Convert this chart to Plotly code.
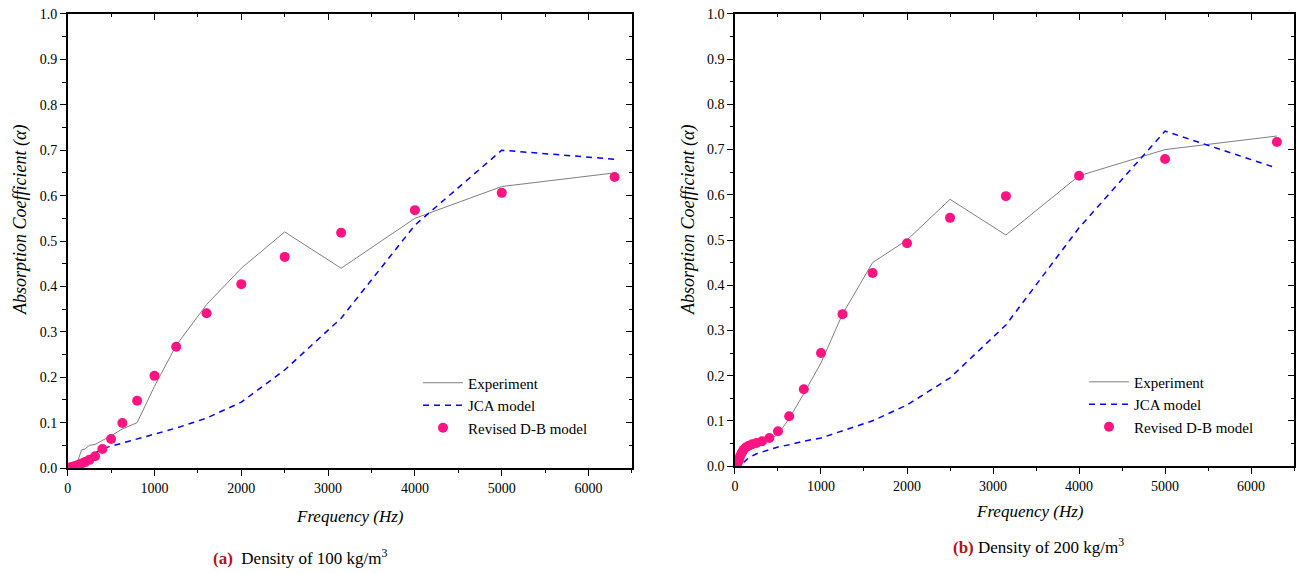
import plotly.graph_objects as go

# ---- (a) density 100 kg/m3 ----
exp_a_f = [20, 63, 80, 100, 125, 160, 200, 250, 315, 400, 500, 630, 800, 1000, 1250, 1600, 2000, 2500, 3150, 4000, 5000, 6300]
exp_a = [0.0, 0.005, 0.01, 0.012, 0.02, 0.04, 0.042, 0.05, 0.052, 0.06, 0.071, 0.086, 0.10, 0.18, 0.27, 0.36, 0.44, 0.52, 0.44, 0.55, 0.62, 0.65]

jca_a_f = [100, 125, 160, 200, 250, 315, 400, 500, 630, 800, 1000, 1250, 1600, 2000, 2500, 3150, 4000, 5000, 6300]
jca_a = [0.004, 0.008, 0.012, 0.018, 0.025, 0.033, 0.043, 0.048, 0.055, 0.064, 0.075, 0.088, 0.11, 0.145, 0.216, 0.33, 0.535, 0.70, 0.68]

db_a_f = [20, 25, 31.5, 40, 50, 63, 80, 100, 125, 160, 200, 250, 315, 400, 500, 630, 800, 1000, 1250, 1600, 2000, 2500, 3150, 4000, 5000, 6300]
db_a = [0.0, 0.0005, 0.001, 0.001, 0.002, 0.003, 0.004, 0.005, 0.007, 0.01, 0.013, 0.018, 0.026, 0.042, 0.064, 0.099, 0.148, 0.203, 0.267, 0.341, 0.405, 0.465, 0.518, 0.568, 0.606, 0.641]

# ---- (b) density 200 kg/m3 ----
exp_b_f = [50, 63, 80, 100, 125, 160, 200, 250, 315, 400, 500, 630, 800, 1000, 1250, 1600, 2000, 2500, 3150, 4000, 5000, 6300]
exp_b = [0.01, 0.015, 0.022, 0.03, 0.035, 0.04, 0.045, 0.048, 0.052, 0.058, 0.07, 0.105, 0.16, 0.228, 0.336, 0.45, 0.50, 0.59, 0.511, 0.642, 0.70, 0.73]

jca_b_f = [100, 125, 160, 200, 250, 315, 400, 500, 630, 800, 1000, 1250, 1600, 2000, 2500, 3150, 4000, 5000, 6300]
jca_b = [0.008, 0.013, 0.018, 0.022, 0.027, 0.031, 0.036, 0.042, 0.047, 0.055, 0.062, 0.078, 0.10, 0.135, 0.195, 0.312, 0.527, 0.741, 0.659]

db_b_f = [20, 25, 31.5, 40, 50, 63, 80, 100, 125, 160, 200, 250, 315, 400, 500, 630, 800, 1000, 1250, 1600, 2000, 2500, 3150, 4000, 5000, 6300]
db_b = [0.003, 0.005, 0.008, 0.012, 0.017, 0.023, 0.03, 0.036, 0.041, 0.045, 0.048, 0.051, 0.055, 0.062, 0.077, 0.11, 0.17, 0.25, 0.336, 0.427, 0.493, 0.549, 0.597, 0.642, 0.679, 0.717]

GREY = "#7f7f7f"
BLUE = "#0000ff"
PINK = "#ff1482"
FONT = "Liberation Serif, Times New Roman, Times, serif"

fig = go.Figure()


def add_panel(xa, ya, legend, ef, ev, jf, jv, df, dv):
    fig.add_trace(go.Scatter(x=ef, y=ev, mode="lines", name="Experiment",
                             line=dict(color=GREY, width=1), xaxis=xa, yaxis=ya, legend=legend))
    fig.add_trace(go.Scatter(x=jf, y=jv, mode="lines", name="JCA model",
                             line=dict(color=BLUE, width=1.5, dash="6px,5px"), xaxis=xa, yaxis=ya, legend=legend))
    fig.add_trace(go.Scatter(x=df, y=dv, mode="markers", name="Revised D-B model",
                             marker=dict(color=PINK, size=10, line=dict(width=0)), xaxis=xa, yaxis=ya, legend=legend))


add_panel("x", "y", "legend", exp_a_f, exp_a, jca_a_f, jca_a, db_a_f, db_a)
add_panel("x2", "y2", "legend2", exp_b_f, exp_b, jca_b_f, jca_b, db_b_f, db_b)

# empty traces so the mirrored frame axes get drawn
fig.add_trace(go.Scatter(x=[], y=[], xaxis="x3", yaxis="y3", showlegend=False))
fig.add_trace(go.Scatter(x=[], y=[], xaxis="x4", yaxis="y4", showlegend=False))

tickfont = dict(family=FONT, size=14, color="black")

xdom_a = [0.0521, 0.4865]
ydom_a = [0.1832, 0.9756]
xdom_b = [0.5658, 0.9962]
ydom_b = [0.1867, 0.9756]


def xaxis_main(dom, anchor):
    return dict(domain=dom, anchor=anchor, range=[0, 6500], tickvals=[0, 1000, 2000, 3000, 4000, 5000, 6000],
                ticks="outside", ticklen=6, tickwidth=1.2, tickcolor="black",
                minor=dict(dtick=500, tick0=0, ticks="outside", ticklen=3.5, tickwidth=1.2, tickcolor="black"),
                showline=True, linecolor="black", linewidth=1.5, showgrid=False, zeroline=False,
                tickfont=tickfont, automargin=False)


def yaxis_main(dom, anchor):
    return dict(domain=dom, anchor=anchor, range=[0, 1.0], dtick=0.1, tickformat=".1f",
                ticks="outside", ticklen=6, tickwidth=1.2, tickcolor="black",
                minor=dict(dtick=0.05, tick0=0, ticks="outside", ticklen=3.5, tickwidth=1.2, tickcolor="black"),
                showline=True, linecolor="black", linewidth=1.5, showgrid=False, zeroline=False,
                tickfont=tickfont, automargin=False)


def xaxis_top(dom, anchor, over):
    return dict(domain=dom, anchor=anchor, overlaying=over, side="top", range=[0, 6500], dtick=1000,
                ticks="inside", ticklen=6, tickwidth=1.2, tickcolor="black",
                minor=dict(dtick=500, tick0=0, ticks="inside", ticklen=3.5, tickwidth=1.2, tickcolor="black"),
                showticklabels=False, showline=True, linecolor="black", linewidth=1.5,
                showgrid=False, zeroline=False, automargin=False)


def yaxis_right(dom, anchor, over):
    return dict(domain=dom, anchor=anchor, overlaying=over, side="right", range=[0, 1.0], dtick=0.1,
                ticks="inside", ticklen=6, tickwidth=1.2, tickcolor="black",
                minor=dict(dtick=0.05, tick0=0, ticks="inside", ticklen=3.5, tickwidth=1.2, tickcolor="black"),
                showticklabels=False, showline=True, linecolor="black", linewidth=1.5,
                showgrid=False, zeroline=False, automargin=False)


legend_style = dict(font=dict(family=FONT, size=15, color="black"), bgcolor="rgba(0,0,0,0)",
                    xanchor="left", yanchor="top", tracegroupgap=0, itemwidth=40)

fig.update_layout(
    width=1299, height=573,
    margin=dict(l=0, r=0, t=0, b=0, autoexpand=False),
    paper_bgcolor="white", plot_bgcolor="white",
    font=dict(family=FONT),
    xaxis=xaxis_main(xdom_a, "y"),
    yaxis=yaxis_main(ydom_a, "x"),
    xaxis2=xaxis_main(xdom_b, "y2"),
    yaxis2=yaxis_main(ydom_b, "x2"),
    xaxis3=xaxis_top(xdom_a, "y3", "x"),
    yaxis3=yaxis_right(ydom_a, "x3", "y"),
    xaxis4=xaxis_top(xdom_b, "y4", "x2"),
    yaxis4=yaxis_right(ydom_b, "x4", "y2"),
    legend=dict(x=418 / 1299, y=0.3604, **legend_style),
    legend2=dict(x=1084 / 1299, y=0.362, **legend_style),
    showlegend=True,
)

ytitle_font = dict(family=FONT, size=18, color="black")
xtitle_font = dict(family=FONT, size=17, color="black")
cap_font = dict(family=FONT, size=17, color="black")

annotations = [
    dict(x=20, y=220, text="<i>Absorption Coefficient (α)</i>", textangle=-90, font=ytitle_font),
    dict(x=688, y=220, text="<i>Absorption Coefficient (α)</i>", textangle=-90, font=ytitle_font),
    dict(x=350, y=516, text="<i>Frequency (Hz)</i>", font=xtitle_font),
    dict(x=1030, y=511, text="<i>Frequency (Hz)</i>", font=xtitle_font),
    dict(x=300, y=557, text="<b><span style='color:#b01515'>(a)</span></b>  Density of 100 kg/m<sup>3</sup>", font=cap_font),
    dict(x=1038, y=546, text="<b><span style='color:#b01515'>(b)</span></b> Density of 200 kg/m<sup>3</sup>", font=cap_font),
]
for a in annotations:
    fig.add_annotation(x=a["x"] / 1299, y=1 - a["y"] / 573, xref="paper", yref="paper",
                       text=a["text"], textangle=a.get("textangle", 0), font=a["font"],
                       showarrow=False, xanchor="center", yanchor="middle")

fig.write_html("out.html")
